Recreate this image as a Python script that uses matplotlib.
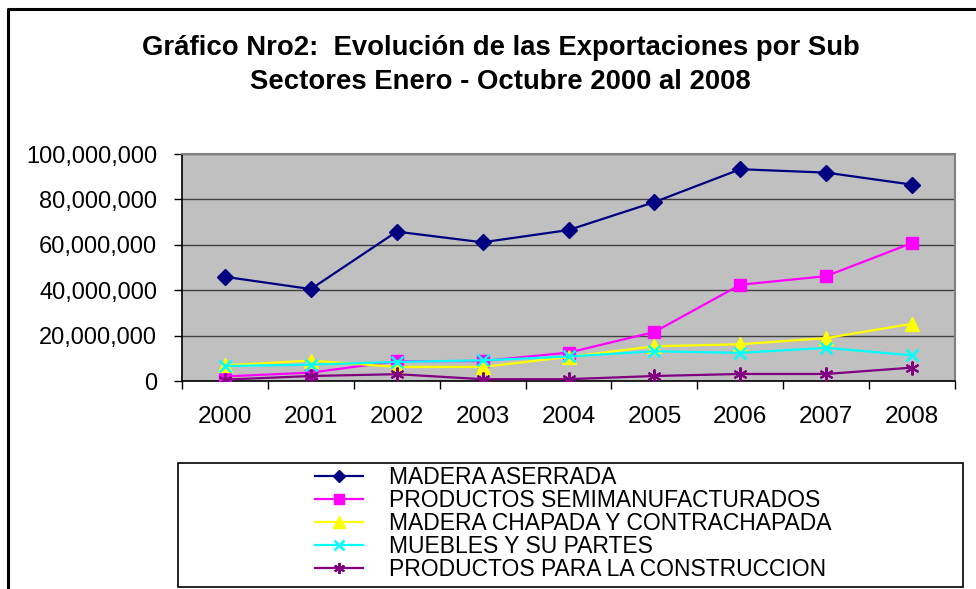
import matplotlib
matplotlib.use('Agg')
import matplotlib.pyplot as plt
from matplotlib.lines import Line2D
from matplotlib.patches import Rectangle
from matplotlib.ticker import FuncFormatter, FixedLocator, NullFormatter

plt.rcParams['font.family'] = ['Liberation Sans', 'DejaVu Sans']

years = ['2000', '2001', '2002', '2003', '2004', '2005', '2006', '2007', '2008']

madera_aserrada = [45.9e6, 40.5e6, 65.8e6, 61.1e6, 66.5e6, 78.8e6, 93.3e6, 91.8e6, 86.5e6]
semimanufacturados = [2.0e6, 3.7e6, 8.7e6, 8.8e6, 12.5e6, 21.6e6, 42.4e6, 46.2e6, 60.8e6]
madera_chapada = [6.9e6, 9.0e6, 6.2e6, 6.2e6, 10.6e6, 15.3e6, 16.2e6, 18.9e6, 25.2e6]
muebles = [6.6e6, 7.2e6, 8.4e6, 9.1e6, 10.8e6, 13.1e6, 12.4e6, 14.6e6, 11.3e6]
construccion = [0.6e6, 2.2e6, 3.0e6, 0.8e6, 0.8e6, 2.2e6, 3.1e6, 3.1e6, 5.9e6]

labels = ['MADERA ASERRADA', 'PRODUCTOS SEMIMANUFACTURADOS',
          'MADERA CHAPADA Y CONTRACHAPADA', 'MUEBLES Y SU PARTES',
          'PRODUCTOS PARA LA CONSTRUCCION']

W, H = 976, 589
fig = plt.figure(figsize=(W / 100, H / 100), dpi=100)
fig.patch.set_facecolor('white')

# plot area in pixels: x 182..955, y 154..381
ax = fig.add_axes([182 / W, 1 - 381 / H, (955 - 182) / W, (381 - 154) / H])
ax.set_facecolor('#C0C0C0')

x = list(range(len(years)))
series = [madera_aserrada, semimanufacturados, madera_chapada, muebles, construccion]
styles = [
    dict(color='#000080', marker='D', ms=8),
    dict(color='#FF00FF', marker='s', ms=8.5),
    dict(color='#FFFF00', marker='^', ms=10),
    dict(color='#00FFFF', marker='x', ms=9, mew=1.8),
    dict(color='#800080', marker=(6, 2, 0), ms=10, mew=1.5),
]
handles = []
for vals, st, lab in zip(series, styles, labels):
    h, = ax.plot(x, vals, lw=1.6, label=lab, zorder=3, **st)
    handles.append(h)

ax.set_xlim(-0.5, 8.5)
ax.set_ylim(0, 100e6)
ax.set_yticks([0, 20e6, 40e6, 60e6, 80e6, 100e6])
ax.yaxis.set_major_formatter(FuncFormatter(lambda v, p: '{:,.0f}'.format(v)))
ax.grid(axis='y', color='#404040', lw=1.0, zorder=1)
ax.set_axisbelow(True)

# excel style category ticks: marks between, labels centred
ax.xaxis.set_major_locator(FixedLocator([i - 0.5 for i in range(10)]))
ax.xaxis.set_major_formatter(NullFormatter())
ax.xaxis.set_minor_locator(FixedLocator(x))
ax.set_xticklabels(years, minor=True)
ax.tick_params(axis='x', which='major', direction='out', length=6, width=1, color='black')
ax.tick_params(axis='x', which='minor', length=0, pad=18, labelsize=17.5)
ax.tick_params(axis='y', direction='out', length=6, width=1, color='black', pad=12, labelsize=17)

for s in ['top', 'right']:
    ax.spines[s].set_color('#808080')
    ax.spines[s].set_linewidth(1.5)
for s in ['left', 'bottom']:
    ax.spines[s].set_color('black')
    ax.spines[s].set_linewidth(1.2)

fig.text(501 / W, 1 - 48 / H, 'Gráfico Nro2:  Evolución de las Exportaciones por Sub',
         ha='center', va='center', fontsize=19.8, fontweight='bold')
fig.text(500 / W, 1 - 82 / H, 'Sectores Enero - Octubre 2000 al 2008',
         ha='center', va='center', fontsize=19.8, fontweight='bold')

# outer chart frame (only top and left visible)
fig.add_artist(Line2D([8 / W, 8 / W, 1.0], [0.0, 1 - 9 / H, 1 - 9 / H],
                      transform=fig.transFigure, color='black', lw=2.2))

# legend box
fig.add_artist(Rectangle((178 / W, 1 - 587 / H), (963 - 178) / W, (587 - 463) / H,
                         transform=fig.transFigure, fill=False, ec='black', lw=1.2))
fig.legend(handles=handles, labels=labels, loc='upper left',
           bbox_to_anchor=(315 / W, 1 - 466 / H), frameon=False, fontsize=16.5,
           borderpad=0, borderaxespad=0, labelspacing=0.0, handlelength=2.1,
           handletextpad=1.15, markerscale=0.8)

fig.savefig('out.png', dpi=100)
